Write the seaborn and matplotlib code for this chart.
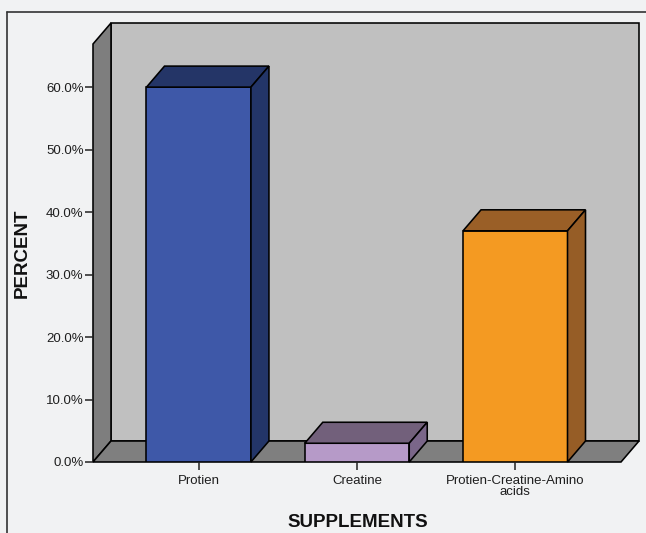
import matplotlib
matplotlib.use("Agg")
import matplotlib.pyplot as plt
from matplotlib.patches import Polygon
from matplotlib.lines import Line2D
import seaborn as sns
import pandas as pd

# Data
supplements = ["Protien", "Creatine", "Protien-Creatine-Amino\nacids"]
percents = [60.0, 3.0, 37.0]
y_ticks = [0, 10, 20, 30, 40, 50, 60]
y_tick_labels = ["0.0%", "10.0%", "20.0%", "30.0%", "40.0%", "50.0%", "60.0%"]

# Face colours: front, top, side
front_colors = ["#3e58a8", "#b69ac8", "#f49a22"]
top_colors = ["#243567", "#72607b", "#9a5f27"]
side_colors = ["#233568", "#7a6689", "#965d26"]

sns.set_theme(style="white")
plt.rcParams["font.family"] = ["Liberation Sans", "DejaVu Sans"]

W, H, DPI = 646, 533, 100
fig = plt.figure(figsize=(W / DPI, H / DPI), dpi=DPI, facecolor="#f1f2f3")

# Axes box in pixels (front plane of the 3D frame)
x0_px, x1_px, y0_px, y1_px = 93, 621, 462, 44
ax = fig.add_axes([x0_px / W, 1 - y0_px / H, (x1_px - x0_px) / W, (y0_px - y1_px) / H])
ax.set_facecolor("none")

xmin, xmax = -0.668, 2.668
ymin, ymax = 0.0, 66.9

# Depth offset of the 3D frame, converted from pixels to data units
depth_dx_px, depth_dy_px = 18, 21
dx = depth_dx_px * (xmax - xmin) / (x1_px - x0_px)
dy = depth_dy_px * (ymax - ymin) / (y0_px - y1_px)

edge_kw = dict(edgecolor="black", linewidth=1.15, clip_on=False, joinstyle="miter")

# Back wall, left wall and floor
ax.add_patch(Polygon([(xmin + dx, dy), (xmax + dx, dy), (xmax + dx, ymax + dy), (xmin + dx, ymax + dy)],
                     facecolor="#c0c0c0", zorder=0.1, **edge_kw))
ax.add_patch(Polygon([(xmin, 0), (xmin, ymax), (xmin + dx, ymax + dy), (xmin + dx, dy)],
                     facecolor="#7e7e7e", zorder=0.2, **edge_kw))
ax.add_patch(Polygon([(xmin, 0), (xmax, 0), (xmax + dx, dy), (xmin + dx, dy)],
                     facecolor="#7f7f7f", zorder=0.3, **edge_kw))

df = pd.DataFrame({"supplement": supplements, "percent": percents})
sns.barplot(data=df, x="supplement", y="percent", hue="supplement", palette=front_colors,
            width=0.66, legend=False, edgecolor="black", linewidth=1.15, saturation=1,
            ax=ax, zorder=2)
ax.set_xlim(xmin, xmax)
ax.set_ylim(ymin, ymax)

# Top and side faces of every bar
bars = [p for p in ax.patches if p.get_zorder() == 2]
for bar, top_c, side_c in zip(bars, top_colors, side_colors):
    bx0 = bar.get_x()
    bx1 = bx0 + bar.get_width()
    h = bar.get_height()
    ax.add_patch(Polygon([(bx0, h), (bx1, h), (bx1 + dx, h + dy), (bx0 + dx, h + dy)],
                         facecolor=top_c, zorder=2, **edge_kw))
    ax.add_patch(Polygon([(bx1, 0), (bx1, h), (bx1 + dx, h + dy), (bx1 + dx, dy)],
                         facecolor=side_c, zorder=2, **edge_kw))

for s in ax.spines.values():
    s.set_visible(False)

ax.set_yticks(y_ticks)
ax.set_yticklabels(y_tick_labels)
ax.tick_params(axis="both", which="both", direction="out", length=5.8, width=1.1,
               color="#222222", labelcolor="#1e1e1e", labelsize=9.5, pad=1,
               left=True, bottom=True)
ax.tick_params(axis="x", pad=3.5)
for lbl in ax.get_xticklabels():
    lbl.set_linespacing(0.9)

ax.set_xlabel("SUPPLEMENTS", fontsize=13.5, fontweight="bold", color="#111111")
ax.set_ylabel("PERCENT", fontsize=13.5, fontweight="bold", color="#111111")
ax.xaxis.set_label_coords((357.5 - x0_px) / (x1_px - x0_px), (y0_px - 514) / (y0_px - y1_px))
ax.yaxis.set_label_coords((31 - x0_px) / (x1_px - x0_px), 0.5)

# Outer frame (top and left edges)
fig.add_artist(Line2D([7 / W, 7 / W], [0, 1 - 12 / H], color="#333333", linewidth=1.2))
fig.add_artist(Line2D([7 / W, 1], [1 - 12 / H, 1 - 12 / H], color="#333333", linewidth=1.2))

fig.savefig("out.png", dpi=DPI, facecolor=fig.get_facecolor())
